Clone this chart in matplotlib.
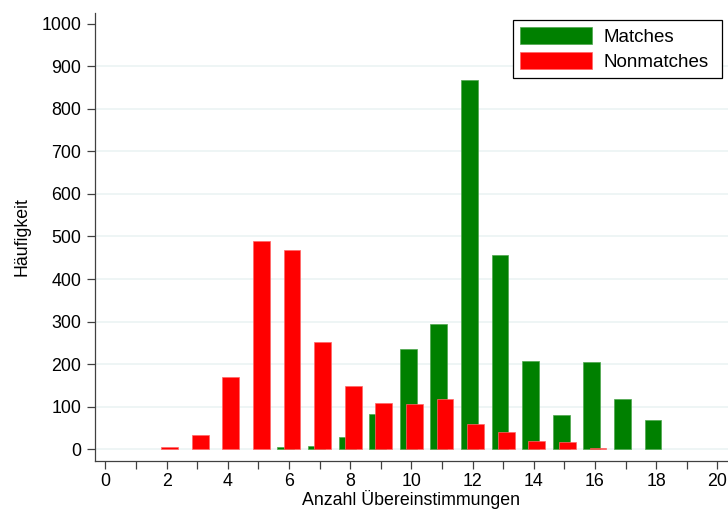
import matplotlib.pyplot as plt
from matplotlib.ticker import FixedLocator

# Anzahl Übereinstimmungen -> Häufigkeit
match_x = [6, 7, 8, 9, 10, 11, 12, 13, 14, 15, 16, 17, 18]
match_n = [5, 8, 30, 83, 236, 294, 868, 457, 207, 80, 204, 119, 68]

nonmatch_x = [2, 3, 4, 5, 6, 7, 8, 9, 10, 11, 12, 13, 14, 15, 16]
nonmatch_n = [5, 33, 170, 489, 469, 253, 149, 109, 106, 118, 60, 40, 19, 18, 4]

x_ticks = list(range(0, 21))
x_labels = [str(t) if t % 2 == 0 else "" for t in x_ticks]
y_ticks = list(range(0, 1001, 100))
grid_levels = y_ticks[:-1]

green = "#008000"
red = "#ff0000"
axis_col = "#404040"
fs = 12.8
fs_leg = 13.5

plt.rcParams["font.family"] = ["Liberation Sans", "DejaVu Sans"]

fig = plt.figure(figsize=(7.28, 5.09), dpi=100)
ax = fig.add_axes([95 / 728, 48 / 509, 633 / 728, 448 / 509])

for g in grid_levels:
    ax.axhline(g, color="#eaf2f3", lw=1.1, zorder=0)

w = 0.55
ax.bar([x - 0.1 for x in match_x], match_n, width=w, color=green,
       edgecolor="#4da64d", linewidth=0.5, label="Matches", zorder=2)
ax.bar([x + 0.1 for x in nonmatch_x], nonmatch_n, width=w, color=red,
       edgecolor="#ff6666", linewidth=0.5, label="Nonmatches", zorder=3)

ax.set_xlim(-0.34, 20.35)
ax.set_ylim(-27.5, 1025)

ax.xaxis.set_major_locator(FixedLocator(x_ticks))
ax.set_xticklabels(x_labels)
ax.set_yticks(y_ticks)

for s in ["top", "right"]:
    ax.spines[s].set_visible(False)
for s in ["left", "bottom"]:
    ax.spines[s].set_color(axis_col)
    ax.spines[s].set_linewidth(0.9)

ax.tick_params(axis="both", direction="out", length=6, width=0.9,
               color=axis_col, labelsize=fs, labelcolor="black")
ax.tick_params(axis="x", pad=2.5)
ax.tick_params(axis="y", pad=4)

ax.set_xlabel("Anzahl Übereinstimmungen", fontsize=fs, labelpad=0)
ax.set_ylabel("Häufigkeit", fontsize=fs, labelpad=8)

# legend box spans roughly x 513..722, y 20..81 px in the reference
leg = ax.legend(loc="upper left",
                bbox_to_anchor=(513.3 / 728, 1 - 80.7 / 509, 208.4 / 728, 61 / 509),
                bbox_transform=fig.transFigure, mode="expand", borderaxespad=0,
                fontsize=fs_leg, frameon=True, fancybox=False, framealpha=1,
                handlelength=3.84, handleheight=1.07, handletextpad=0.59,
                labelspacing=0.32, borderpad=0.37)
leg.get_frame().set_edgecolor("black")
leg.get_frame().set_linewidth(0.9)

fig.savefig("out.png", dpi=100)
